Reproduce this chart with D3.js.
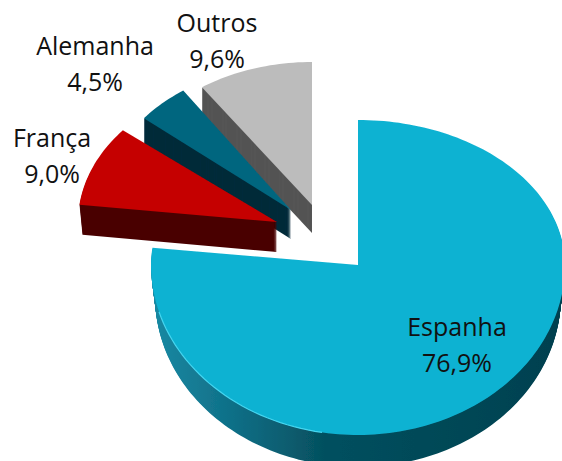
<!DOCTYPE html>
<html><head><meta charset="utf-8">
<script src="https://cdn.jsdelivr.net/npm/d3@7"></script>
<style>html,body{margin:0;padding:0;background:#fff}svg{display:block}</style>
</head><body><div id="c"></div>
<script>
const categories = ["Espanha","França","Alemanha","Outros"];
const shares = [76.9,9.0,4.5,9.6];
const shareLabels = ["76,9%","9,0%","4,5%","9,6%"];

const W=562,H=461;
const topColors = ["#0eb2d2","#c50000","#05667f","#bcbcbc"];
const sideColors = ["url(#sideE)","#4a0000","#012b3a","#555555"];
// exploded layout per slice: apex, radii (x, up, down), extrusion depth
const layout = [
 {ax:358,ay:265,rx:207,up:145,down:170,d:32,shrink:.98},
 {ax:277,ay:222,rx:199,up:145,down:145,d:30,shrink:.985},
 {ax:291,ay:210,rx:190,up:145,down:145,d:29,shrink:1},
 {ax:312,ay:205,rx:194,up:143,down:143,d:28,shrink:1}
];
const labelPos = [
 {x:457,y:336},{x:52,y:147},{x:95,y:55},{x:217,y:32}
];
const svg=d3.select("#c").append("svg").attr("width",W).attr("height",H)
 .style("font-family","'Open Sans',sans-serif");
const defs=svg.append("defs");
const g=defs.append("linearGradient").attr("id","sideE").attr("gradientUnits","userSpaceOnUse")
 .attr("x1",150).attr("x2",565).attr("y1",0).attr("y2",0);
[[0,"#1a8aa4"],[.2,"#0f6f87"],[.42,"#05505f"],[1,"#03404f"]].forEach(s=>g.append("stop").attr("offset",s[0]).attr("stop-color",s[1]));
defs.append("filter").attr("id","soft").append("feGaussianBlur").attr("stdDeviation",.7);

const pie=d3.pie().sort(null).startAngle(0).endAngle(2*Math.PI)(shares);
const line=d3.line();
function outline(a,l,dy=0,sx=1){
  const n=Math.max(2,Math.ceil((a.endAngle-a.startAngle)*40));
  const pts=[[l.ax,l.ay+dy]];
  d3.range(n+1).forEach(i=>{
    const t=a.startAngle+(a.endAngle-a.startAngle)*i/n;
    const c=Math.cos(t),s=Math.sin(t);
    pts.push([l.ax+l.rx*sx*s, l.ay+dy-(c>0?l.up:l.down)*c]);
  });
  return line(pts)+"Z";
}
const chart=svg.append("g").attr("filter","url(#soft)");
[3,2,1,0].forEach(i=>{
  const a=pie[i],l=layout[i],s=chart.append("g");
  d3.range(l.d,0,-1).forEach(d=>{
    s.append("path").attr("d",outline(a,l,d,1-(1-l.shrink)*d/l.d)).attr("fill",sideColors[i]);
  });
  s.append("path").attr("d",outline(a,l)).attr("fill",topColors[i]);
  if(i===0){
    // light rim along the lower left edge
    const rim=[];
    d3.range(190,256,2).forEach(deg=>{
      const t=deg*Math.PI/180,c=Math.cos(t);
      rim.push([l.ax+l.rx*Math.sin(t),l.ay-(c>0?l.up:l.down)*c]);
    });
    s.append("path").attr("d",line(rim)).attr("fill","none").attr("stroke","#45d6f0").attr("stroke-width",1.2);
  }
});
const labels=svg.append("g").attr("fill","#111").attr("font-size",25).attr("text-anchor","middle");
categories.forEach((c,i)=>{
  const p=labelPos[i];
  labels.append("text").attr("x",p.x).attr("y",p.y).text(c);
  labels.append("text").attr("x",p.x).attr("y",p.y+35.5).text(shareLabels[i]);
});
</script></body></html>
